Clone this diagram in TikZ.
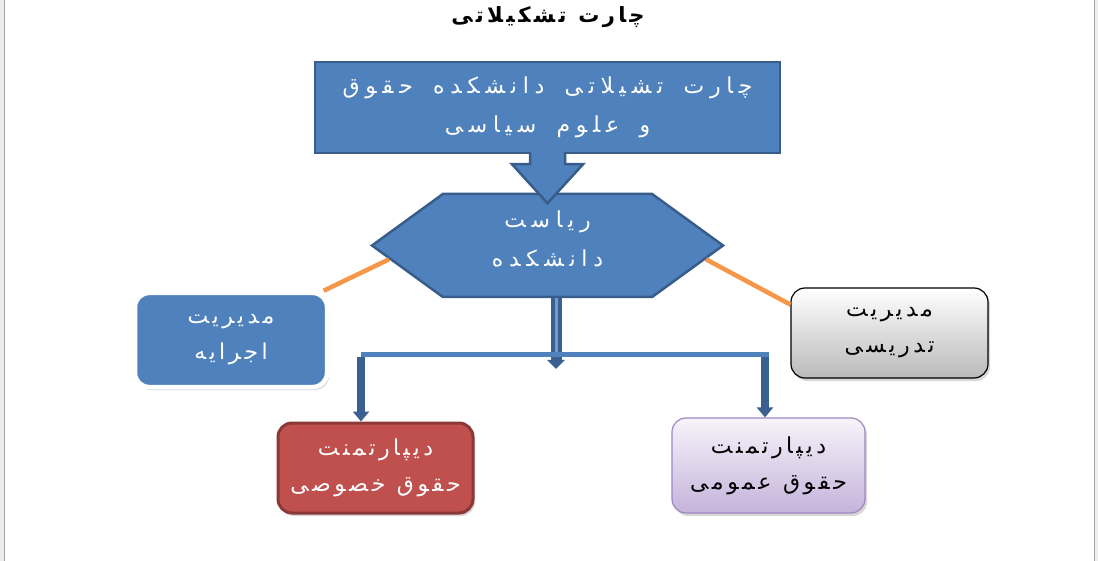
\documentclass[tikz,border=0pt]{standalone}
\usepackage{fontspec}
\usepackage{tikz}
\usetikzlibrary{positioning}
\usetikzlibrary{shapes.symbols,shadows,arrows.meta}
\usepackage{xcolor}
\newfontfamily\arabicfont[Script=Arabic, LetterSpace=16, WordSpace=1.1]{DejaVu Sans}
\newfontfamily\widearabic[Script=Arabic, LetterSpace=26, WordSpace=1.6]{DejaVu Sans}
\TeXXeTstate=1
\definecolor{boxblue}{HTML}{4F81BD}
\definecolor{lineblue}{HTML}{385D8A}
\definecolor{trunkblue}{HTML}{3A6092}
\definecolor{boxred}{HTML}{C0504D}
\definecolor{linered}{HTML}{8C3836}
\definecolor{linkorange}{HTML}{F79646}
\definecolor{lilac}{HTML}{C5B3DB}
\definecolor{linelilac}{HTML}{9F87C0}

\begin{document}
\begin{tikzpicture}[x=1pt,y=-1pt,
    boxtext/.style={font=\arabicfont\fontsize{22}{36}\selectfont, align=center, inner sep=0},
    widetext/.style={font=\widearabic\fontsize{22}{39}\selectfont},
    shade/.style={drop shadow={opacity=0.3, shadow xshift=2pt, shadow yshift=-3pt}},
    bluebox/.style={boxtext, draw=lineblue, line width=2.5, fill=boxblue, text=white},
    roundbox/.style={boxtext, rounded corners=14, shade}]
    % page
    \useasboundingbox (0,0) rectangle (1098,561);
    \fill[white] (0,0) rectangle (1098,561);
    \fill[black!7] (0,0) rectangle (4,561);
    \fill[black!7] (1095,0) rectangle (1098,561);
    \draw[black!35, line width=1.2] (4.5,0) -- (4.5,561);
    \draw[black!35, line width=1.2] (1094.5,0) -- (1094.5,561);

    % boxes
    \node[font=\arabicfont\bfseries\fontsize{21}{26}\selectfont] (title) at (548, 17) {\beginR چارت تشکیلاتی\endR};
    \node[bluebox, widetext, minimum width=465, minimum height=91] (chart) at (547.5, 107.5)
        {\beginR چارت تشیلاتی دانشکده حقوق\endR\\\beginR و علوم سیاسی\endR};
    \node[bluebox, widetext, signal, signal to=west and east, signal pointer angle=72,
        minimum width=351, minimum height=103] (hex) at (547.5, 245.5)
        {\beginR ریاست\endR\\\beginR دانشکده\endR\\[-25pt]};
    \node[roundbox, draw=white, line width=4.5, fill=boxblue, text=white,
        minimum width=192, minimum height=94] (exec) at (231, 340)
        {\beginR مدیریت\endR\\\beginR اجرایه\endR};
    \node[roundbox, draw=black, line width=1.2, top color=white, bottom color=black!27,
        minimum width=197, minimum height=90] (teach) at (889.5, 333)
        {\beginR مدیریت\endR\\\beginR تدریسی\endR};
    \node[roundbox, draw=linered, line width=3, fill=boxred, text=white,
        minimum width=195, minimum height=90] (private) at (375.5, 468)
        {\beginR دیپارتمنت\endR\\\beginR حقوق خصوصی\endR};
    \node[roundbox, draw=linelilac, line width=1.2, top color=lilac!15, bottom color=lilac,
        minimum width=193, minimum height=95] (public) at (768.5, 465.5)
        {\beginR دیپارتمنت\endR\\\beginR حقوق عمومی\endR};

    % block arrow
    \path[fill=boxblue, draw=lineblue, line width=2.5, line join=miter]
        ([shift={(-17.5,-2)}]chart.south) -- ++(0,12) -- ++(-18,0) -- ++(35.5,39)
        -- ++(35.5,-39) -- ++(-18,0) -- ++(0,-12);

    % links
    \draw[linkorange, line width=4.5] (exec.28) -- (hex.185);
    \draw[linkorange, line width=4.5] (teach.164) -- (hex.-5);

    \coordinate (busL) at (361, 357);
    \coordinate (busR) at (765, 357);
    \coordinate (busM) at (556, 369);
    \draw[trunkblue, line width=11, -{Triangle[width=17pt, length=9pt]}] (hex.south -| busM) -- (busM);
    \draw[boxblue!80!white, line width=3] (hex.south -| busM) -- ++(0,58);
    \draw[trunkblue, line width=8, -{Triangle[width=16pt, length=10pt]}] (busL) -- (busL |- private.north);
    \draw[trunkblue, line width=8, -{Triangle[width=16pt, length=10pt]}] (busR) -- (busR |- public.north);
    \draw[boxblue, line width=5] ([shift={(0,-2)}]busL) -- ([shift={(4,-2)}]busR);
\end{tikzpicture}
\end{document}
